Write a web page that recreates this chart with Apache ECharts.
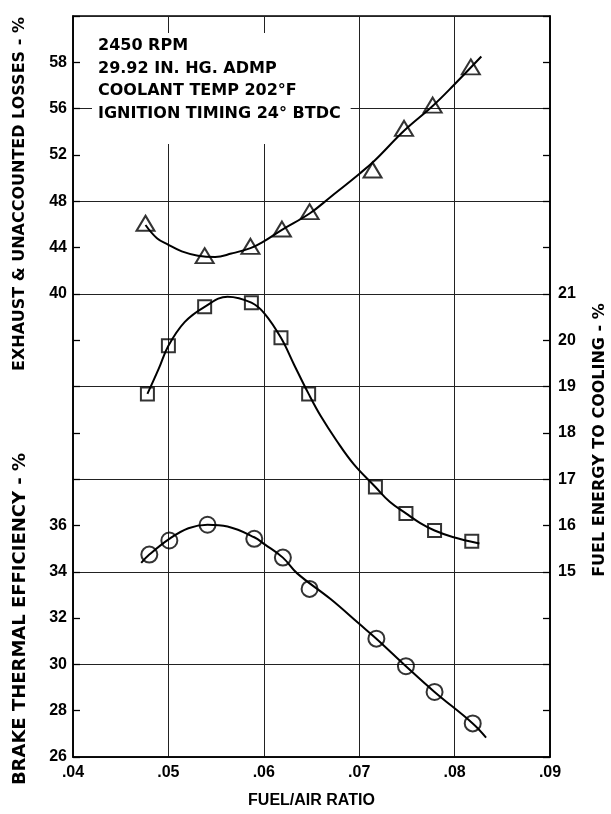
<!DOCTYPE html>
<html>
<head>
<meta charset="utf-8">
<script src="https://cdn.jsdelivr.net/npm/echarts@6/dist/echarts.min.js"></script>
<style>
  html, body { margin: 0; padding: 0; background: #fff; }
  #panel { width: 611px; height: 814px; }
</style>
</head>
<body>
<div id="panel"></div>
<script>
// exhaust & unaccounted losses (triangles) - measured points
const TRI_FA = [0.0476, 0.0538, 0.0586, 0.0619, 0.0648, 0.0714, 0.0747, 0.0777, 0.0817];
const TRI_VAL = [46.1, 43.3, 44.1, 45.6, 47.1, 50.7, 54.3, 56.3, 59.6];
// faired curve through the triangles
const TRI_CURVE_FA = [0.0476, 0.0488, 0.0500, 0.0514, 0.0531, 0.0549, 0.0566, 0.0586, 0.0600, 0.0619, 0.0648, 0.0670, 0.0700, 0.0716, 0.0747, 0.0777, 0.0799, 0.0828];
const TRI_CURVE_VAL = [45.95, 44.81, 44.24, 43.67, 43.30, 43.19, 43.48, 43.95, 44.53, 45.53, 46.94, 48.37, 50.36, 51.5, 54.09, 56.23, 58.02, 60.5];

// fuel energy to cooling (squares)
const SQ_FA = [0.0478, 0.0500, 0.0538, 0.0587, 0.0618, 0.0647, 0.0717, 0.0749, 0.0779, 0.0818];
const SQ_VAL = [18.84, 19.88, 20.72, 20.81, 20.05, 18.84, 16.83, 16.26, 15.89, 15.66];
const SQ_CURVE_FA = [0.0478, 0.0490, 0.0500, 0.0517, 0.0538, 0.0562, 0.0587, 0.0601, 0.0618, 0.0632, 0.0647, 0.0660, 0.0676, 0.0694, 0.0717, 0.0732, 0.0749, 0.0764, 0.0779, 0.0798, 0.0826];
const SQ_CURVE_VAL = [18.84, 19.39, 19.88, 20.39, 20.72, 20.94, 20.81, 20.57, 20.05, 19.46, 18.84, 18.35, 17.84, 17.33, 16.83, 16.51, 16.26, 16.05, 15.89, 15.75, 15.61];

// brake thermal efficiency (circles)
const CIR_FA = [0.0480, 0.0501, 0.0541, 0.0590, 0.0620, 0.0648, 0.0718, 0.0749, 0.0779, 0.0819];
const CIR_VAL = [34.74, 35.35, 36.03, 35.42, 34.61, 33.26, 31.11, 29.92, 28.81, 27.45];
const CIR_CURVE_FA = [0.04715, 0.0480, 0.0501, 0.0521, 0.0541, 0.0562, 0.0590, 0.0601, 0.0620, 0.0635, 0.0670, 0.0700, 0.0718, 0.0749, 0.0779, 0.0819, 0.0833];
const CIR_CURVE_VAL = [34.38, 34.74, 35.42, 35.88, 36.03, 35.95, 35.49, 35.18, 34.61, 33.93, 32.82, 31.75, 31.11, 29.92, 28.81, 27.45, 26.84];

// tick labels (the printed scale reads 58 where 60 would be)
const EXH_TICKS = [40, 44, 48, 52, 56, 60];
const EXH_TICK_LABELS = ['40', '44', '48', '52', '56', '58'];
const EFF_TICKS = [26, 28, 30, 32, 34, 36];
const COOL_TICKS = [15, 16, 17, 18, 19, 20, 21];

const NOTES = ['2450 RPM', '29.92 IN. HG. ADMP', 'COOLANT TEMP 202°F', 'IGNITION TIMING 24° BTDC'];

const zip = (xs, ys) => xs.map((x, i) => [x, ys[i]]);

const TICK_FONT = { color: '#000', fontFamily: 'Liberation Sans', fontWeight: 'bold', fontSize: 16 };

const curveStyle = { color: '#000', width: 2 };
const markStyle = { color: 'rgba(0,0,0,0)', borderColor: '#000', borderWidth: 2 };

const myChart = echarts.init(document.getElementById('panel'), null, { renderer: 'canvas' });

const option = {
  backgroundColor: '#fff',
  animation: false,
  title: {
    text: NOTES.join('\n'),
    left: 92,
    top: 33,
    padding: [2, 10, 19, 6],
    backgroundColor: '#fff',
    textStyle: {
      fontFamily: 'DejaVu Sans',
      fontWeight: 'bold',
      fontSize: 16,
      lineHeight: 22.5,
      color: '#000',
    },
  },
  grid: {
    left: 73,
    right: 61,
    top: 16,
    bottom: 49,
    show: true,
    borderColor: '#000',
    borderWidth: 1.6,
  },
  xAxis: {
    type: 'value',
    min: 0.04,
    max: 0.09,
    interval: 0.01,
    name: 'FUEL/AIR RATIO',
    nameLocation: 'middle',
    nameGap: 36,
    nameTextStyle: TICK_FONT,
    axisLine: { show: true, lineStyle: { color: '#000', width: 1.6 } },
    axisTick: { show: false },
    axisLabel: {
      ...TICK_FONT,
      margin: 8,
      formatter: (v) => v.toFixed(2).replace(/^0/, ''),
    },
    splitLine: { show: true, lineStyle: { color: '#222', width: 1 } },
  },
  yAxis: [
    {
      // exhaust & unaccounted losses, left
      type: 'value',
      position: 'left',
      min: 0,
      max: 64,
      interval: 4,
      axisLine: { show: true, lineStyle: { color: '#000', width: 1.6 } },
      axisTick: { show: true, inside: true, length: 7, lineStyle: { color: '#000', width: 1.3 } },
      axisLabel: {
        ...TICK_FONT,
        margin: 6,
        formatter: (v) => {
          const i = EXH_TICKS.indexOf(Math.round(v));
          return i >= 0 ? EXH_TICK_LABELS[i] : '';
        },
      },
      splitLine: { show: false },
    },
    {
      // brake thermal efficiency, left (lower half)
      type: 'value',
      position: 'left',
      min: 26,
      max: 58,
      interval: 2,
      axisLine: { show: false },
      axisTick: { show: false },
      axisLabel: {
        ...TICK_FONT,
        margin: 6,
        formatter: (v) => (EFF_TICKS.indexOf(Math.round(v)) >= 0 ? String(Math.round(v)) : ''),
      },
      splitLine: { show: false },
    },
    {
      // fuel energy to cooling, right
      type: 'value',
      position: 'right',
      min: 11,
      max: 27,
      interval: 1,
      axisLine: { show: true, lineStyle: { color: '#000', width: 1.6 } },
      axisTick: { show: true, inside: true, length: 7, lineStyle: { color: '#000', width: 1.3 } },
      axisLabel: {
        ...TICK_FONT,
        margin: 8,
        formatter: (v) => (COOL_TICKS.indexOf(Math.round(v)) >= 0 ? String(Math.round(v)) : ''),
      },
      splitLine: { show: false },
    },
    {
      // only for the horizontal grid (every second tick)
      type: 'value',
      position: 'left',
      min: 0,
      max: 16,
      interval: 2,
      axisLine: { show: false },
      axisTick: { show: false },
      axisLabel: { show: false },
      splitLine: { show: true, lineStyle: { color: '#222', width: 1 } },
    },
  ],
  graphic: [
    {
      type: 'text',
      x: 20,
      y: 194,
      rotation: Math.PI / 2,
      style: { text: 'EXHAUST & UNACCOUNTED LOSSES - %', font: 'bold 16px "DejaVu Sans"', fill: '#000', align: 'center', verticalAlign: 'middle' },
    },
    {
      type: 'text',
      x: 20,
      y: 619,
      rotation: Math.PI / 2,
      style: { text: 'BRAKE THERMAL EFFICIENCY - %', font: 'bold 18px "DejaVu Sans"', fill: '#000', align: 'center', verticalAlign: 'middle' },
    },
    {
      type: 'text',
      x: 600,
      y: 440,
      rotation: Math.PI / 2,
      style: { text: 'FUEL ENERGY TO COOLING - %', font: 'bold 16px "DejaVu Sans"', fill: '#000', align: 'center', verticalAlign: 'middle' },
    },
  ],
  series: [
    {
      name: 'exhaust curve',
      type: 'line',
      yAxisIndex: 0,
      smooth: 0.4,
      showSymbol: false,
      lineStyle: curveStyle,
      data: zip(TRI_CURVE_FA, TRI_CURVE_VAL),
    },
    {
      name: 'exhaust',
      type: 'scatter',
      yAxisIndex: 0,
      symbol: 'triangle',
      symbolSize: [18, 15],
      itemStyle: markStyle,
      z: 5,
      data: zip(TRI_FA, TRI_VAL),
    },
    {
      name: 'cooling curve',
      type: 'line',
      yAxisIndex: 2,
      smooth: 0.4,
      showSymbol: false,
      lineStyle: curveStyle,
      data: zip(SQ_CURVE_FA, SQ_CURVE_VAL),
    },
    {
      name: 'cooling',
      type: 'scatter',
      yAxisIndex: 2,
      symbol: 'rect',
      symbolSize: 13,
      itemStyle: markStyle,
      z: 5,
      data: zip(SQ_FA, SQ_VAL),
    },
    {
      name: 'efficiency curve',
      type: 'line',
      yAxisIndex: 1,
      smooth: 0.4,
      showSymbol: false,
      lineStyle: curveStyle,
      data: zip(CIR_CURVE_FA, CIR_CURVE_VAL),
    },
    {
      name: 'efficiency',
      type: 'scatter',
      yAxisIndex: 1,
      symbol: 'circle',
      symbolSize: 16,
      itemStyle: markStyle,
      z: 5,
      data: zip(CIR_FA, CIR_VAL),
    },
  ],
};

myChart.setOption(option);
</script>
</body>
</html>
